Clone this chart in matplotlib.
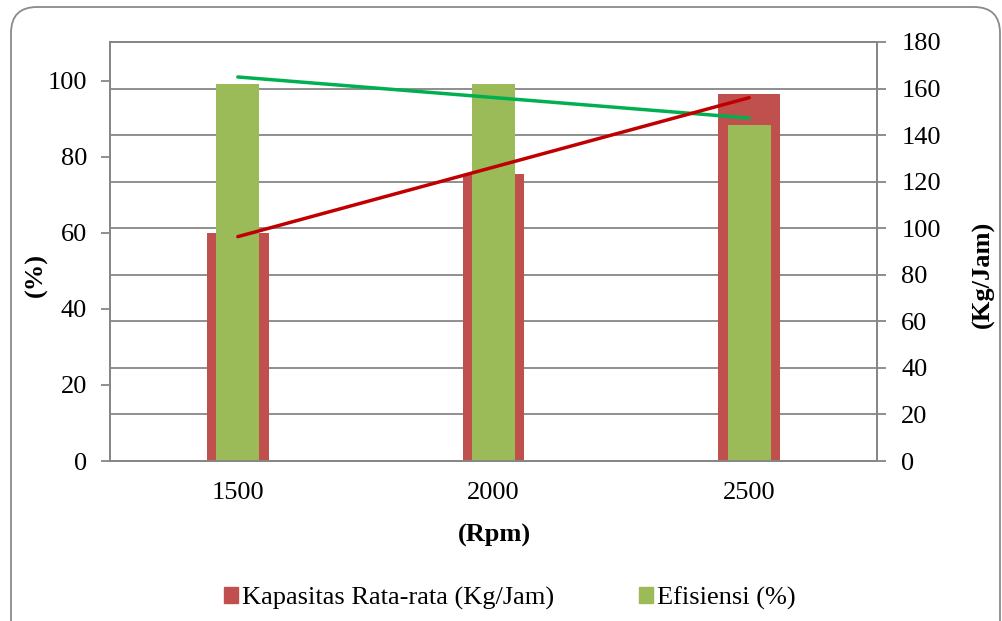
import numpy as np
import matplotlib
matplotlib.use("Agg")
import matplotlib.pyplot as plt
from matplotlib.patches import FancyBboxPatch, Patch

# data
rpm = ["1500", "2000", "2500"]
kapasitas = [97.9, 123.2, 157.6]   # Kg/Jam (right axis)
efisiensi = [99.2, 99.2, 88.4]     # % (left axis)

RED = "#C0504D"
GREEN = "#9BBB59"
RED_TREND = "#C00000"
GREEN_TREND = "#00B050"
GRID = "#868686"
FONT = "Liberation Serif"
FS = 19

plt.rcParams["font.family"] = FONT

W, H = 1003, 621
fig = plt.figure(figsize=(W / 100, H / 100), dpi=100)

# rounded chart border
border = FancyBboxPatch((11 / W, -30 / H), (1000 - 11) / W, (614 + 30) / H,
                        boxstyle="round,pad=0,rounding_size=0.026",
                        transform=fig.transFigure, fill=False,
                        edgecolor="#8a8a8a", lw=1.3, mutation_aspect=W / H)
fig.patches.append(border)

left, right, bottom, top = 110, 877, 461, 42
ax = fig.add_axes([left / W, 1 - bottom / H, (right - left) / W, (bottom - top) / H])
ax2 = ax.twinx()
ax3 = ax.twinx()

# layering: red bars (ax2) under green bars (ax) under red trend (ax3)
ax2.set_zorder(1)
ax.set_zorder(2)
ax3.set_zorder(3)
ax.patch.set_visible(False)
ax3.patch.set_visible(False)

x = np.arange(len(rpm))

ax2.bar(x, kapasitas, width=0.241, color=RED, zorder=2)
ax.bar(x, efisiensi, width=0.168, color=GREEN, zorder=2)

# linear trend lines
pk = np.polyfit(x, kapasitas, 1)
pe = np.polyfit(x, efisiensi, 1)
ax.plot(x[[0, -1]], np.polyval(pe, x[[0, -1]]), color=GREEN_TREND, lw=2.5,
        solid_capstyle="round", zorder=3)
ax3.plot(x[[0, -1]], np.polyval(pk, x[[0, -1]]), color=RED_TREND, lw=2.5,
         solid_capstyle="round", zorder=3)

ax.set_xlim(-0.5, 2.5)
ax.set_ylim(0, 110.2)
ax2.set_ylim(0, 180)
ax3.set_ylim(0, 180)

ax.set_yticks(range(0, 101, 20))
ax2.set_yticks(range(0, 181, 20))
ax3.set_yticks([])
ax.set_xticks(x)
ax.set_xticklabels(rpm)

ax2.yaxis.grid(True, color=GRID, lw=1.3)
ax2.set_axisbelow(True)

for a in (ax, ax2):
    for s in a.spines.values():
        s.set_color(GRID)
        s.set_linewidth(1.3)
for s in ax3.spines.values():
    s.set_visible(False)

ax.tick_params(axis="y", length=6.5, width=1.3, color=GRID, pad=10,
               labelsize=FS)
ax2.tick_params(axis="y", length=6.5, width=1.3, color=GRID, pad=11,
                labelsize=FS)
ax.tick_params(axis="x", length=0, pad=15, labelsize=FS)

# axis titles placed where the reference has them
fig.text(36 / W, 1 - 275 / H, "(%)", fontsize=FS, fontweight="bold",
         rotation=90, ha="center", va="center")
fig.text(983 / W, 1 - 274 / H, "(Kg/Jam)", fontsize=FS, fontweight="bold",
         rotation=90, ha="center", va="center")
fig.text(494 / W, 1 - 535 / H, "(Rpm)", fontsize=FS, fontweight="bold",
         ha="center", va="center")

handles = [Patch(color=RED, label="Kapasitas Rata-rata (Kg/Jam)"),
           Patch(color=GREEN, label="Efisiensi (%)")]
fig.legend(handles=handles, loc="center", bbox_to_anchor=(510 / W, 1 - 598 / H),
           ncol=2, frameon=False, fontsize=FS, handlelength=0.55,
           handleheight=0.55, handletextpad=0.15, columnspacing=3.2)

fig.savefig("out.png", dpi=100)
